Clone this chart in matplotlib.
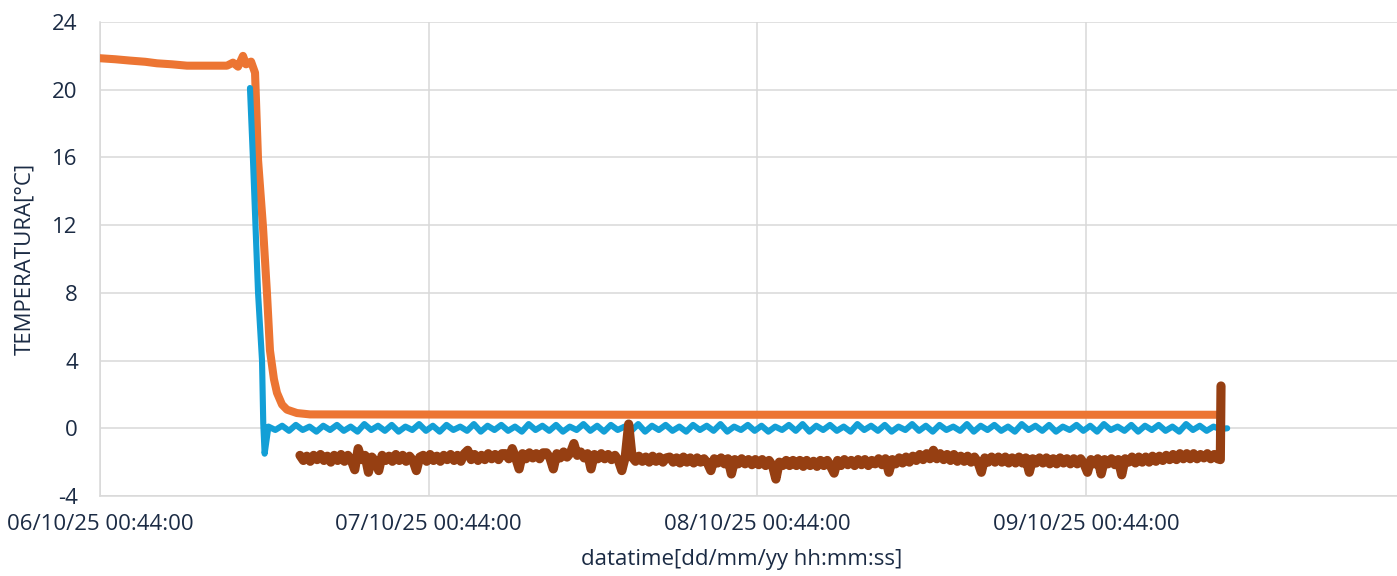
#!/usr/bin/env python3
"""Temperature log over four days: three probes after a cooling start."""

import numpy as np
import matplotlib
matplotlib.use("Agg")
import matplotlib.pyplot as plt

# x values are hours since 06/10/25 00:44:00
TICK_HOURS = [0, 24, 48, 72]
TICK_LABELS = ["06/10/25 00:44:00", "07/10/25 00:44:00",
               "08/10/25 00:44:00", "09/10/25 00:44:00"]

# orange probe: ambient start, cool-down, then steady plateau
ORANGE_T = [0.0, 1.1, 2.2, 3.3, 4.16, 5.26, 6.35, 9.27, 9.71, 10.08, 10.44,
            10.66, 11.03, 11.32, 11.54, 11.9, 12.19, 12.41, 12.7, 12.92, 13.29,
            13.65, 14.38, 15.33, 40.0, 81.55]
ORANGE_V = [21.86, 21.8, 21.72, 21.65, 21.56, 21.5, 21.42, 21.42, 21.6, 21.36,
            22.0, 21.5, 21.66, 21.0, 15.85, 11.9, 8.0, 4.6, 2.9, 2.1, 1.4,
            1.1, 0.9, 0.82, 0.8, 0.8]

# blue probe: fast drop, then half-hourly samples around zero
BLUE_DROP_T = [10.95, 11.17, 11.54, 11.83, 11.92, 12.02]
BLUE_DROP_V = [20.1, 15.85, 8.0, 4.0, 0.3, -1.5]
BLUE_START, BLUE_END = 12.3, 82.3
BLUE_V = [
    0.1, -0.1, 0.15, -0.15, 0.2, -0.1, 0.1, -0.2, 0.15, -0.1,
    0.2, -0.15, 0.1, -0.2, 0.25, -0.1, 0.15, -0.15, 0.2, -0.2,
    0.1, -0.1, 0.25, -0.15, 0.15, -0.2, 0.2, -0.1, 0.1, -0.15,
    0.25, -0.2, 0.15, -0.1, 0.2, -0.15, 0.1, -0.2, 0.25, -0.1,
    0.15, -0.15, 0.2, -0.2, 0.1, -0.1, 0.25, -0.15, 0.15, -0.2,
    0.2, -0.1, 0.1, -0.15, 0.25, -0.2, 0.15, -0.1, 0.2, -0.15,
    0.1, -0.2, 0.2, -0.1, 0.15, -0.15, 0.25, -0.2, 0.1, -0.1,
    0.2, -0.15, 0.15, -0.2, 0.1, -0.1, 0.2, -0.15, 0.25, -0.2,
    0.15, -0.1, 0.2, -0.15, 0.1, -0.2, 0.25, -0.1, 0.15, -0.15,
    0.2, -0.2, 0.1, -0.1, 0.25, -0.15, 0.15, -0.2, 0.2, -0.1,
    0.1, -0.15, 0.25, -0.2, 0.15, -0.1, 0.2, -0.15, 0.1, -0.2,
    0.25, -0.1, 0.15, -0.15, 0.2, -0.2, 0.1, -0.1, 0.2, -0.15,
    0.15, -0.2, 0.25, -0.1, 0.1, -0.15, 0.2, -0.2, 0.15, -0.1,
    0.2, -0.15, 0.1, -0.2, 0.25, -0.1, 0.15, -0.15, 0.1, -0.05,
    0.0,
]

# brown probe: quarter-hour samples (one row = 3 h), then the final jump
BROWN_START, BROWN_STEP = 14.6, 0.25
BROWN_V = [
    -1.6, -1.9, -1.65, -1.95, -1.6, -1.85, -1.55, -1.9, -1.65, -2.0, -1.6, -1.9,
    -1.55, -1.95, -1.6, -1.9, -2.45, -1.2, -1.85, -1.6, -2.6, -1.7, -1.95, -2.5,
    -1.6, -1.9, -1.65, -1.95, -1.55, -1.9, -1.6, -1.95, -1.65, -1.9, -2.5, -1.7,
    -1.6, -1.95, -1.55, -1.9, -1.65, -1.95, -1.6, -1.85, -1.55, -1.9, -1.6, -1.95,
    -1.5, -1.3, -1.85, -1.55, -1.9, -1.6, -1.85, -1.5, -1.8, -1.55, -1.85, -1.5,
    -1.5, -1.8, -1.2, -1.75, -2.4, -1.5, -1.8, -1.45, -1.75, -1.5, -1.8, -1.45,
    -1.45, -1.75, -2.4, -1.5, -1.75, -1.4, -1.7, -1.45, -0.9, -1.6, -1.4, -1.75,
    -1.5, -2.4, -1.55, -1.8, -1.5, -1.8, -1.55, -1.85, -1.6, -1.9, -2.5, -1.7,
    0.25, -1.7, -1.95, -1.65, -1.95, -1.7, -2.0, -1.65, -1.95, -1.7, -2.0, -1.75,
    -1.7, -2.0, -1.75, -2.05, -1.7, -2.0, -1.75, -2.05, -1.75, -2.0, -1.8, -2.05,
    -2.5, -1.8, -2.05, -1.75, -2.1, -1.8, -2.7, -1.85, -2.1, -1.8, -2.1, -1.85,
    -2.15, -1.85, -2.15, -1.85, -2.2, -1.9, -2.2, -3.0, -2.0, -2.2, -1.9, -2.2,
    -1.9, -2.2, -1.9, -2.25, -1.9, -2.2, -1.95, -2.25, -1.9, -2.2, -1.9, -2.25,
    -2.65, -1.9, -2.2, -1.85, -2.15, -1.9, -2.2, -1.85, -2.15, -1.85, -2.2, -1.9,
    -2.1, -1.8, -2.15, -1.8, -2.6, -1.85, -2.1, -1.75, -2.05, -1.7, -2.0, -1.65,
    -1.9, -1.55, -1.85, -1.5, -1.8, -1.3, -1.8, -1.5, -1.85, -1.55, -1.9, -1.55,
    -1.95, -1.65, -1.95, -1.65, -2.0, -1.7, -2.0, -2.6, -1.75, -2.0, -1.7, -2.0,
    -1.7, -2.0, -1.7, -2.05, -1.75, -2.05, -1.7, -2.05, -1.75, -2.6, -1.8, -2.05,
    -1.75, -2.05, -1.75, -2.1, -1.8, -2.1, -1.75, -2.05, -1.8, -2.1, -1.8, -2.1,
    -1.8, -2.1, -2.6, -1.85, -2.1, -1.8, -2.7, -1.85, -2.1, -1.8, -2.15, -1.85,
    -2.75, -1.8, -2.0, -1.7, -2.05, -1.7, -2.0, -1.7, -2.0, -1.65, -1.95, -1.65,
    -1.9, -1.6, -1.85, -1.55, -1.85, -1.5, -1.8, -1.5, -1.8, -1.5, -1.8, -1.55,
    -1.75, -1.5, -1.8, -1.55, -1.8,
]
BROWN_TAIL_T = [81.8, 81.85]
BROWN_TAIL_V = [-1.85, 2.5]

TEXT = "#1B2B44"
GRID = "#D9D9D9"

plt.rcParams["font.family"] = ["Open Sans", "DejaVu Sans"]
plt.rcParams["axes.unicode_minus"] = False

fig = plt.figure(figsize=(13.97, 5.76), dpi=100)
ax = fig.add_axes([100 / 1397, 1 - 496 / 576, 1297 / 1397, 474 / 576])

line_kw = dict(solid_capstyle="round", solid_joinstyle="round")

ax.plot(ORANGE_T, ORANGE_V, color="#EC7533", lw=5.8, zorder=3, **line_kw)

blue_t = np.concatenate([BLUE_DROP_T, np.linspace(BLUE_START, BLUE_END, len(BLUE_V))])
blue_v = np.concatenate([BLUE_DROP_V, BLUE_V])
ax.plot(blue_t, blue_v, color="#139FD6", lw=4.4, zorder=4, **line_kw)

brown_t = BROWN_START + BROWN_STEP * np.arange(len(BROWN_V))
brown_t = np.concatenate([brown_t, BROWN_TAIL_T])
brown_v = np.concatenate([BROWN_V, BROWN_TAIL_V])
ax.plot(brown_t, brown_v, color="#963F12", lw=6.6, zorder=5, **line_kw)

ax.set_xlim(0, 94.7)
ax.set_ylim(-4, 24)
ax.set_yticks(range(-4, 25, 4))
ax.set_xticks(TICK_HOURS, TICK_LABELS)
ax.grid(True, color=GRID, lw=1.1, zorder=0)
ax.set_axisbelow(True)

for side in ("top", "right"):
    ax.spines[side].set_visible(False)
for side in ("left", "bottom"):
    ax.spines[side].set_color(GRID)
    ax.spines[side].set_linewidth(1.1)

ax.tick_params(axis="both", length=0, labelsize=16, labelcolor=TEXT)
ax.tick_params(axis="x", pad=13)
ax.tick_params(axis="y", pad=16)

ax.set_xlabel("datatime[dd/mm/yy hh:mm:ss]", fontsize=16, color=TEXT)
ax.set_ylabel("TEMPERATURA[°C]", fontsize=16, color=TEXT)
ax.xaxis.set_label_coords(0.495, -0.112)
ax.yaxis.set_label_coords(-0.050, 0.5)

fig.savefig("out.png", dpi=100)
